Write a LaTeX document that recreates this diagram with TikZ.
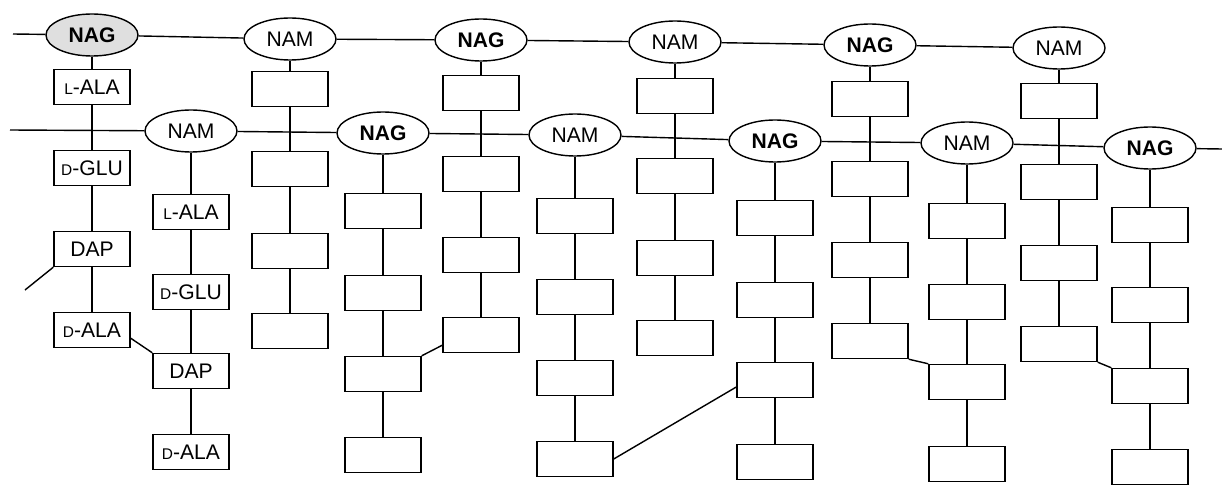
\documentclass[tikz,border=0pt]{standalone}
\usepackage{fontspec}
\setmainfont{Liberation Sans}
\usetikzlibrary{shapes.geometric,calc}

% small capital prefix for the stereo-descriptors (L-, D-)
\newcommand{\stereo}[1]{{\fontsize{11}{13}\selectfont #1}}

\tikzset{
  sugar/.style={ellipse, draw, line width=1pt, minimum width=2.3cm,
    minimum height=1.05cm, inner sep=0pt, fill=white,
    font=\fontsize{15}{17}\selectfont},
  nag/.style={sugar, font=\fontsize{15}{17}\selectfont\bfseries},
  nagshaded/.style={nag, fill=gray!25},
  residue/.style={rectangle, draw, line width=1pt, minimum width=1.9cm,
    minimum height=0.875cm, inner sep=0pt, fill=white,
    font=\fontsize{15}{17}\selectfont},
  link/.style={line width=1pt},
}

\begin{document}
\begin{tikzpicture}[x=0.025cm,y=-0.025cm]
\useasboundingbox (0,0) rectangle (1222,485);

% upper glycan strand
\node[nagshaded] (t1) at (92,35)   {NAG};
\node[sugar]     (t2) at (290,39)  {NAM};
\node[nag]       (t3) at (481,40)  {NAG};
\node[sugar]     (t4) at (675,42)  {NAM};
\node[nag]       (t5) at (870,45)  {NAG};
\node[sugar]     (t6) at (1059,48) {NAM};
\coordinate (tl) at (13,34);

% lower glycan strand
\node[sugar] (m1) at (191,131)  {NAM};
\node[nag]   (m2) at (383,133)  {NAG};
\node[sugar] (m3) at (575,135)  {NAM};
\node[nag]   (m4) at (775,141)  {NAG};
\node[sugar] (m5) at (967,143)  {NAM};
\node[nag]   (m6) at (1150,148) {NAG};
\coordinate (ml) at (10,130);
\coordinate (mr) at (1222,149);

% labelled peptide stems
\node[residue] (t1-b1) at (92,87)  {\stereo{L}-ALA};
\node[residue] (t1-b2) at (92,168) {\stereo{D}-GLU};
\node[residue] (t1-b3) at (92,249) {DAP};
\node[residue] (t1-b4) at (92,330) {\stereo{D}-ALA};

\node[residue] (m1-b1) at (191,212) {\stereo{L}-ALA};
\node[residue] (m1-b2) at (191,292) {\stereo{D}-GLU};
\node[residue] (m1-b3) at (191,371) {DAP};
\node[residue] (m1-b4) at (191,452) {\stereo{D}-ALA};

% unlabelled peptide stems
\foreach \c/\x/\ya/\yb/\yc/\yd in {
    t2/290/89/169/251/331,
    m2/383/211/293/374/455,
    t3/481/93/174/255/335,
    m3/575/216/297/378/459,
    t4/675/96/176/258/338,
    m4/775/218/300/380/462,
    t5/870/99/179/260/341,
    m5/967/221/302/382/464,
    t6/1059/101/182/263/344,
    m6/1150/225/305/386/467} {
  \node[residue] (\c-b1) at (\x,\ya) {};
  \node[residue] (\c-b2) at (\x,\yb) {};
  \node[residue] (\c-b3) at (\x,\yc) {};
  \node[residue] (\c-b4) at (\x,\yd) {};
}

% backbone bonds
\draw[link] (tl) -- (t1) -- (t2) -- (t3) -- (t4) -- (t5) -- (t6);
\draw[link] (ml) -- (m1) -- (m2) -- (m3) -- (m4) -- (m5) -- (m6) -- (mr);

% stem bonds
\foreach \c in {t1,t2,t3,t4,t5,t6,m1,m2,m3,m4,m5,m6} {
  \draw[link] (\c) -- (\c-b1) -- (\c-b2) -- (\c-b3) -- (\c-b4);
}

% cross-links between stems
\coordinate (cl) at (25,290);
\draw[link] (t1-b3.south west) -- (cl);
\draw[link] ([yshift=0.25cm]t1-b4.south east) -- (m1-b3.north west);
\draw[link] (m2-b3.north east) -- ([yshift=0.2cm]t3-b4.south west);
\draw[link] (m3-b4.east) -- ([yshift=-0.175cm]m4-b3.west);
\draw[link] (t5-b4.south east) -- (m5-b3.north west);
\draw[link] (t6-b4.south east) -- (m6-b3.north west);
\end{tikzpicture}
\end{document}
